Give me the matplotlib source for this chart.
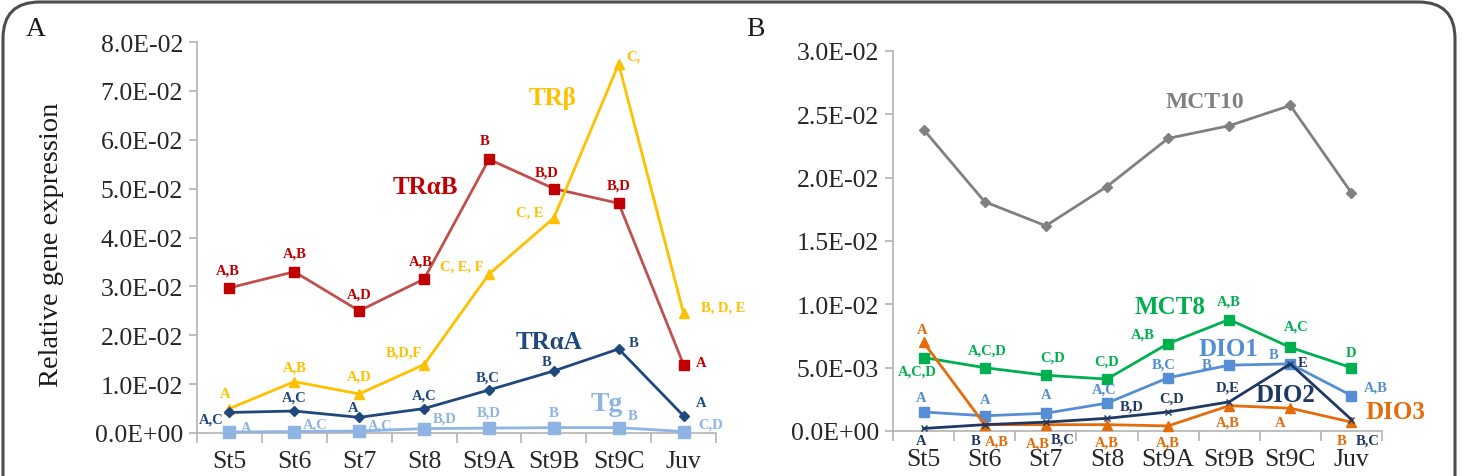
import matplotlib
matplotlib.use("Agg")
import matplotlib.pyplot as plt
from matplotlib.patches import FancyBboxPatch

stages = ["St5", "St6", "St7", "St8", "St9A", "St9B", "St9C", "Juv"]

# Panel A values
tra_b = [0.0297, 0.0330, 0.0250, 0.0315, 0.0560, 0.0500, 0.0470, 0.0140]
tr_b = [0.0050, 0.0105, 0.0080, 0.0140, 0.0325, 0.0440, 0.0755, 0.0245]
tra_a = [0.0042, 0.0045, 0.0032, 0.0050, 0.0088, 0.0127, 0.0172, 0.0035]
tg = [0.0002, 0.0003, 0.0004, 0.0009, 0.0010, 0.0011, 0.0011, 0.0003]

# Panel B values
mct10 = [0.0238, 0.0181, 0.0162, 0.0193, 0.0231, 0.0241, 0.0257, 0.0188]
mct8 = [0.0058, 0.0050, 0.0044, 0.0041, 0.0069, 0.0088, 0.0066, 0.0050]
dio1 = [0.0015, 0.0012, 0.0014, 0.0022, 0.0042, 0.0052, 0.0053, 0.0028]
dio2 = [0.0002, 0.0005, 0.0007, 0.0010, 0.0015, 0.0023, 0.0053, 0.0009]
dio3 = [0.0070, 0.0005, 0.0005, 0.0005, 0.0004, 0.0020, 0.0018, 0.0007]

# Significance letters
tra_b_lab = ["A,B", "A,B", "A,D", "A,B", "B", "B,D", "B,D", "A"]
tr_b_lab = ["A", "A,B", "A,D", "B,D,F", "C, E, F", "C, E", "C,", "B, D, E"]
tra_a_lab = ["A,C", "A,C", "A", "A,C", "B,C", "B", "B", "A"]
tg_lab = ["A", "A,C", "A,C", "B,D", "B,D", "B", "B", "C,D"]
mct8_lab = ["A,C,D", "A,C,D", "C,D", "C,D", "A,B", "A,B", "A,C", "D"]
dio1_lab = ["A", "A", "A", "A,C", "B,C", "B", "B", "A,B"]
dio2_lab = ["A", "B", "B,C", "B,D", "C,D", "D,E", "E", "B,C"]
dio3_lab = ["A", "A,B", "A,B", "A,B", "A,B", "A,B", "A", "B"]

yticks_a = [0.0, 0.01, 0.02, 0.03, 0.04, 0.05, 0.06, 0.07, 0.08]
ytick_lab_a = ["0.0E+00", "1.0E-02", "2.0E-02", "3.0E-02", "4.0E-02",
               "5.0E-02", "6.0E-02", "7.0E-02", "8.0E-02"]
yticks_b = [0.0, 0.005, 0.01, 0.015, 0.02, 0.025, 0.03]
ytick_lab_b = ["0.0E+00", "5.0E-03", "1.0E-02", "1.5E-02", "2.0E-02",
               "2.5E-02", "3.0E-02"]

plt.rcParams['font.family'] = ['Liberation Serif', 'DejaVu Serif']

W, H = 1463, 477
fig = plt.figure(figsize=(W / 100, H / 100), dpi=100)

# frame (bottom edge falls outside the picture)
frame = FancyBboxPatch((3 / W, -0.1), (1452 / W), 1.1 - 3 / H,
                       boxstyle="round,pad=0,rounding_size=0.025",
                       transform=fig.transFigure, fill=False,
                       edgecolor="#4d4d4d", linewidth=2.2, clip_on=False,
                       mutation_aspect=W / H)
fig.patches.append(frame)

axA = fig.add_axes([197 / W, 1 - 434 / H, (716 - 197) / W, (434 - 43) / H])
axB = fig.add_axes([893 / W, 1 - 432 / H, (1382 - 893) / W, (432 - 52) / H])

x = list(range(len(stages)))
spine_c = "#b3b3b3"
tick_c = "#262626"


def style(ax, yt, ytl, ymax):
    ax.set_xlim(-0.5, len(stages) - 0.5)
    ax.set_ylim(0, ymax)
    for s in ["top", "right"]:
        ax.spines[s].set_visible(False)
    for s in ["left", "bottom"]:
        ax.spines[s].set_color(spine_c)
        ax.spines[s].set_linewidth(1.2)
    ax.set_yticks(yt)
    ax.set_yticklabels(ytl)
    ax.set_xticks(x)
    ax.set_xticklabels(stages)
    ax.set_xticks([i - 0.5 for i in range(len(stages) + 1)], minor=True)
    ax.tick_params(axis="x", which="major", length=0, pad=12,
                   labelsize=18.5, labelcolor=tick_c)
    ax.tick_params(axis="x", which="minor", length=7, color=spine_c, width=1.2)
    ax.tick_params(axis="y", length=6, color=spine_c, width=1.2,
                   labelsize=18.5, labelcolor=tick_c, pad=4)


style(axA, yticks_a, ytick_lab_a, 0.08)
style(axB, yticks_b, ytick_lab_b, 0.03)


def plot_series(ax, vals, lc, mc, marker, ms, labels, offsets, tc, lw=2.0, fs=10.5):
    ax.plot(x, vals, color=lc, linewidth=lw, marker=marker, markersize=ms,
            markerfacecolor=mc, markeredgecolor=mc, clip_on=False, zorder=3)
    for xi, v, lab, off in zip(x, vals, labels, offsets):
        ax.annotate(lab, (xi, v), xytext=off, textcoords="offset pixels",
                    ha="center", va="center", fontsize=fs, fontweight="bold",
                    color=tc, zorder=4)


# Panel A
plot_series(axA, tra_b, "#c0504d", "#c00000", "s", 7.5, tra_b_lab,
            [(-2, 18), (0, 19), (0, 17), (-3, 18), (-4, 19), (-7, 17), (0, 18), (18, 2)],
            "#c00000")
plot_series(axA, tr_b, "#ffc000", "#ffc000", "^", 7, tr_b_lab,
            [(-4, 15), (0, 15), (0, 18), (-20, 13), (-27, 8), (-24, 6), (15, 8), (40, 6)],
            "#ffc000")
plot_series(axA, tra_a, "#1f497d", "#1f497d", "D", 5.5, tra_a_lab,
            [(-18, -7), (0, 14), (-6, 10), (0, 14), (-1, 13), (-7, 9), (15, 6), (18, 13)],
            "#1f497d")
plot_series(axA, tg, "#8db4e2", "#8db4e2", "s", 8, tg_lab,
            [(17, 5), (21, 8), (21, 6), (21, 11), (0, 16), (0, 15), (14, 12), (27, 8)],
            "#8db4e2")

axA.text(3.02, 0.0505, "TRαB", color="#c00000", fontsize=18, fontweight="bold",
         ha="center", va="center")
axA.text(4.98, 0.0687, "TRβ", color="#ffc000", fontsize=18, fontweight="bold",
         ha="center", va="center")
axA.text(4.92, 0.0188, "TRαA", color="#1f497d", fontsize=18, fontweight="bold",
         ha="center", va="center")
axA.text(5.82, 0.0061, "Tg", color="#8db4e2", fontsize=20, fontweight="bold",
         ha="center", va="center")

# Panel B
plot_series(axB, mct10, "#808080", "#808080", "D", 5, [""] * 8, [(0, 0)] * 8, "#808080")
plot_series(axB, mct8, "#00b050", "#00b050", "s", 7.5, mct8_lab,
            [(-6, -13), (3, 18), (7, 18), (0, 18), (-25, 10), (0, 19), (6, 21), (0, 15)],
            "#00b050")
plot_series(axB, dio1, "#558ed5", "#558ed5", "s", 7.5, dio1_lab,
            [(-2, 14), (0, 16), (0, 19), (-3, 14), (-4, 14), (-23, 1), (-17, 9), (24, 9)],
            "#558ed5")
plot_series(axB, dio3, "#e46c0a", "#e46c0a", "^", 7, dio3_lab,
            [(-1, 13), (12, -16), (-8, -18), (0, -17), (0, -16), (-1, -16), (-10, -14), (-10, -18)],
            "#e46c0a")
plot_series(axB, dio2, "#1f3864", "#1f3864", "x", 5, dio2_lab,
            [(-2, -12), (-9, -16), (17, -17), (25, 12), (4, 14), (-2, 15), (12, 1), (16, -20)],
            "#1f3864")

axB.text(4.6, 0.0260, "MCT10", color="#808080", fontsize=17, fontweight="bold",
         ha="center", va="center")
axB.text(4.03, 0.0098, "MCT8", color="#00b050", fontsize=18, fontweight="bold",
         ha="center", va="center")
axB.text(4.98, 0.0065, "DIO1", color="#558ed5", fontsize=18, fontweight="bold",
         ha="center", va="center")
axB.text(5.92, 0.0029, "DIO2", color="#1f3864", fontsize=18, fontweight="bold",
         ha="center", va="center")
axB.text(7.72, 0.0015, "DIO3", color="#e46c0a", fontsize=18, fontweight="bold",
         ha="center", va="center", clip_on=False)

fig.text(52 / W, 1 - 245 / H, "Relative gene expression", rotation=90,
         ha="center", va="center", fontsize=20.5, color="#1a1a1a")
fig.text(36 / W, 1 - 30 / H, "A", ha="center", va="center", fontsize=20, color="#1a1a1a")
fig.text(755 / W, 1 - 30 / H, "B", ha="center", va="center", fontsize=20, color="#1a1a1a")

fig.savefig("out.png", dpi=100)
